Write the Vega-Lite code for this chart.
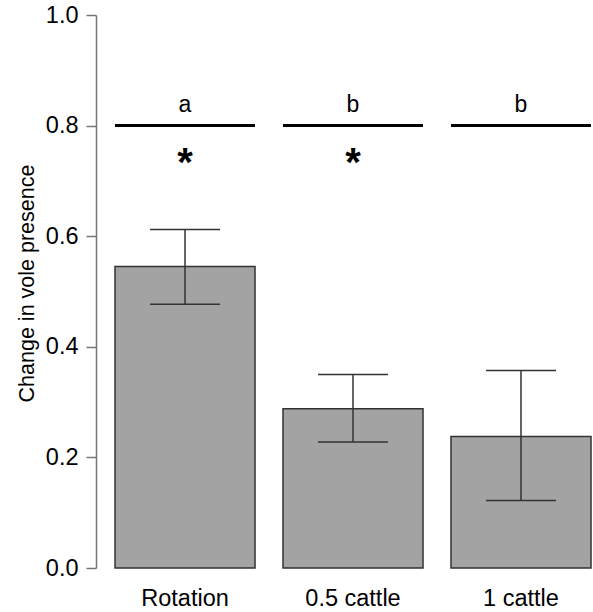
{
  "$schema": "https://vega.github.io/schema/vega-lite/v6.json",
  "autosize": {"type": "none"},
  "padding": {"left": 115, "top": 15, "right": 2, "bottom": 44},
  "width": 476,
  "height": 553,
  "config": {
    "view": {"stroke": null},
    "font": "Liberation Sans",
    "axis": {"labelFont": "Liberation Sans", "titleFont": "Liberation Sans", "grid": false}
  },
  "data": {
    "values": [
      {"group": "Rotation", "value": 0.545, "lo": 0.477, "hi": 0.612, "letter": "a", "star": "*", "sig": 0.8},
      {"group": "0.5 cattle", "value": 0.288, "lo": 0.228, "hi": 0.35, "letter": "b", "star": "*", "sig": 0.8},
      {"group": "1 cattle", "value": 0.238, "lo": 0.122, "hi": 0.357, "letter": "b", "star": "", "sig": 0.8}
    ]
  },
  "encoding": {
    "x": {
      "field": "group",
      "type": "nominal",
      "sort": null,
      "scale": {"paddingInner": 0.1665, "paddingOuter": 0},
      "axis": {
        "title": null,
        "domain": false,
        "ticks": false,
        "labelAngle": 0,
        "labelFontSize": 23.5,
        "labelColor": "#000000",
        "labelPadding": 18
      }
    }
  },
  "layer": [
    {
      "mark": {"type": "bar", "fill": "#a3a3a3", "stroke": "#333333", "strokeWidth": 1.5},
      "encoding": {
        "y": {
          "field": "value",
          "type": "quantitative",
          "scale": {"domain": [0, 1], "nice": false, "zero": true},
          "axis": {
            "title": "Change in vole presence",
            "titleFontSize": 21.5,
            "titleFontWeight": "normal",
            "titleColor": "#000000",
            "titlePadding": 7,
            "titleY": 268,
            "values": [0, 0.2, 0.4, 0.6, 0.8, 1.0],
            "format": ".1f",
            "offset": 19,
            "domainColor": "#777777",
            "domainWidth": 1.5,
            "tickColor": "#777777",
            "tickWidth": 1.5,
            "tickSize": 10,
            "labelFontSize": 23.5,
            "labelColor": "#000000",
            "labelPadding": 8
          }
        }
      }
    },
    {
      "mark": {"type": "rule", "stroke": "#333333", "strokeWidth": 1.5},
      "encoding": {
        "y": {"field": "lo", "type": "quantitative"},
        "y2": {"field": "hi"}
      }
    },
    {
      "mark": {"type": "tick", "orient": "horizontal", "color": "#333333", "size": 70, "thickness": 1.5, "opacity": 1},
      "encoding": {"y": {"field": "lo", "type": "quantitative"}}
    },
    {
      "mark": {"type": "tick", "orient": "horizontal", "color": "#333333", "size": 70, "thickness": 1.5, "opacity": 1},
      "encoding": {"y": {"field": "hi", "type": "quantitative"}}
    },
    {
      "mark": {"type": "tick", "orient": "horizontal", "color": "#000000", "size": 140, "thickness": 3, "opacity": 1},
      "encoding": {"y": {"field": "sig", "type": "quantitative"}}
    },
    {
      "mark": {"type": "text", "fontSize": 23, "color": "#000000", "baseline": "alphabetic", "dy": 0},
      "encoding": {
        "y": {"datum": 0.824},
        "text": {"field": "letter"}
      }
    },
    {
      "mark": {"type": "text", "fontSize": 40, "fontWeight": "bold", "color": "#000000", "baseline": "middle"},
      "encoding": {
        "y": {"datum": 0.731},
        "text": {"field": "star"}
      }
    }
  ]
}
